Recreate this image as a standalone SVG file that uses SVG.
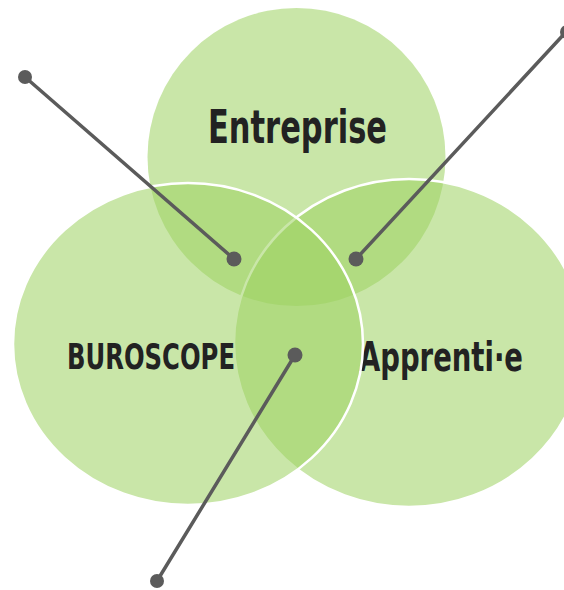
<svg xmlns="http://www.w3.org/2000/svg" width="564" height="590" viewBox="0 0 564 590">
<style>
.c{fill:#9dd261;fill-opacity:0.55}
.s{stroke:#ffffff;stroke-width:2.5}
.lbl{font-family:"Ubuntu Condensed","Liberation Sans Narrow","DejaVu Sans Condensed",sans-serif;font-weight:bold;fill:#222222}
.ln{stroke:#5b5b5b;stroke-width:3.5;stroke-linecap:round;fill:none}
.dot{fill:#5b5b5b}
</style>
<rect width="564" height="590" fill="#ffffff"/>
<g id="entreprise">
<circle class="c" cx="296.5" cy="157" r="149"/>
<text class="lbl" x="297.5" y="143" font-size="46" text-anchor="middle" textLength="179" lengthAdjust="spacingAndGlyphs">Entreprise</text>
</g>
<g id="apprenti">
<ellipse class="c s" cx="409" cy="343" rx="175" ry="164"/>
<text class="lbl" x="359" y="371" font-size="40" textLength="164" lengthAdjust="spacingAndGlyphs">Apprenti·e</text>
</g>
<g id="buroscope">
<ellipse class="c s" cx="188" cy="344" rx="175" ry="161"/>
<text class="lbl" x="67" y="369" font-size="36" textLength="168" lengthAdjust="spacingAndGlyphs">BUROSCOPE</text>
</g>
<g id="connectors">
<line class="ln" x1="25" y1="77" x2="234" y2="259"/>
<circle class="dot" cx="25" cy="77" r="7"/>
<circle class="dot" cx="234" cy="259" r="7.5"/>
<line class="ln" x1="566" y1="32" x2="356" y2="259"/>
<circle class="dot" cx="567" cy="32" r="7"/>
<circle class="dot" cx="356" cy="259" r="7.5"/>
<line class="ln" x1="295" y1="355" x2="157" y2="581"/>
<circle class="dot" cx="295" cy="355" r="7.5"/>
<circle class="dot" cx="157" cy="581" r="7"/>
</g>
</svg>
